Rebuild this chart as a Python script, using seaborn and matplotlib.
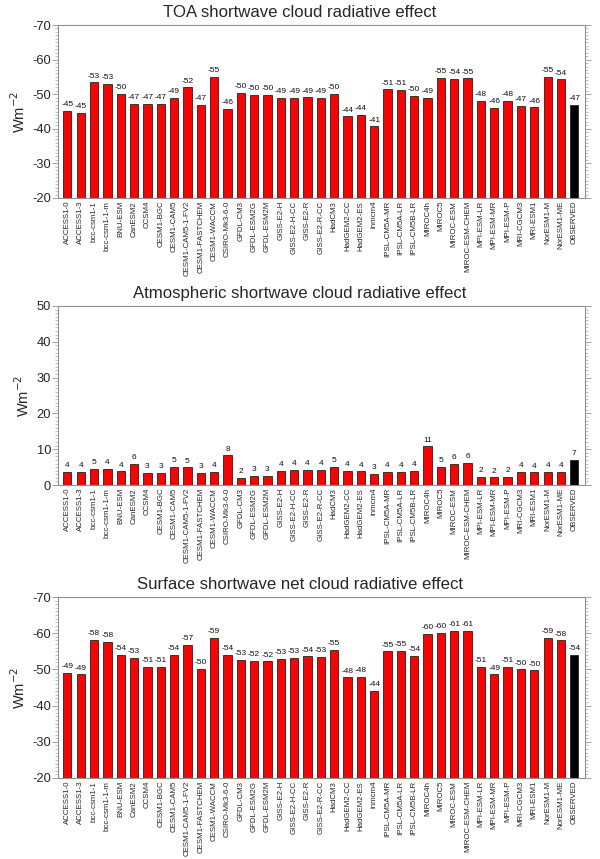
import matplotlib
matplotlib.use("Agg")
import matplotlib.pyplot as plt
import seaborn as sns
import pandas as pd
import numpy as np
from matplotlib.ticker import MultipleLocator

sns.set_theme(style="white")
plt.rcParams['font.family'] = ['Liberation Sans', 'DejaVu Sans']
plt.rcParams['axes.unicode_minus'] = False

models = ["ACCESS1-0", "ACCESS1-3", "bcc-csm1-1", "bcc-csm1-1-m", "BNU-ESM", "CanESM2",
          "CCSM4", "CESM1-BGC", "CESM1-CAM5", "CESM1-CAM5-1-FV2", "CESM1-FASTCHEM",
          "CESM1-WACCM", "CSIRO-Mk3-6-0", "GFDL-CM3", "GFDL-ESM2G", "GFDL-ESM2M",
          "GISS-E2-H", "GISS-E2-H-CC", "GISS-E2-R", "GISS-E2-R-CC", "HadCM3",
          "HadGEM2-CC", "HadGEM2-ES", "inmcm4", "IPSL-CM5A-MR", "IPSL-CM5A-LR",
          "IPSL-CM5B-LR", "MIROC4h", "MIROC5", "MIROC-ESM", "MIROC-ESM-CHEM",
          "MPI-ESM-LR", "MPI-ESM-MR", "MPI-ESM-P", "MRI-CGCM3", "MRI-ESM1",
          "NorESM1-M", "NorESM1-ME", "OBSERVED"]

toa = [-45.2, -44.6, -53.4, -53.0, -50.0, -47.1, -47.2, -47.1, -49.0, -52.0, -46.8,
       -54.9, -45.7, -50.3, -49.7, -49.7, -48.9, -48.9, -49.1, -48.9, -50.0,
       -43.6, -44.1, -40.7, -51.4, -51.2, -49.6, -48.9, -54.7, -54.4, -54.6,
       -48.1, -46.0, -48.0, -46.6, -46.2, -54.9, -54.3, -47.0]

atm = [3.7, 3.6, 4.6, 4.4, 3.8, 6.0, 3.4, 3.4, 5.0, 4.9, 3.3,
       3.7, 8.3, 2.0, 2.6, 2.55, 4.0, 4.2, 4.2, 4.2, 5.1,
       4.0, 3.8, 3.2, 3.6, 3.6, 3.9, 10.8, 5.1, 6.0, 6.1,
       2.2, 2.1, 2.2, 3.6, 3.55, 3.6, 3.7, 7.0]

sfc = [-49.1, -48.6, -58.1, -57.5, -54.0, -53.2, -50.7, -50.6, -54.0, -56.8, -50.2,
       -58.7, -54.1, -52.6, -52.3, -52.2, -53.0, -53.1, -53.6, -53.4, -55.3,
       -47.8, -48.0, -44.0, -55.0, -55.1, -53.7, -59.8, -60.0, -60.6, -60.7,
       -50.7, -48.6, -50.6, -50.0, -49.7, -58.6, -58.0, -54.0]

titles = ["TOA shortwave cloud radiative effect",
          "Atmospheric shortwave cloud radiative effect",
          "Surface shortwave net cloud radiative effect"]
ylims = [(-20, -70), (0, 50), (-20, -70)]
series = [toa, atm, sfc]

colors = ["#ff0000"] * (len(models) - 1) + ["#000000"]
palette = dict(zip(models, colors))

W, H = 600, 859
fig = plt.figure(figsize=(6, 8.59), dpi=100)
boxes = [(25, 198), (306, 485), (597, 778)]
spine_col = "#909090"
ax_left, ax_right = 58, 585

for vals, title, yl, (top, bot) in zip(series, titles, ylims, boxes):
    ax = fig.add_axes([ax_left / W, 1 - bot / H, (ax_right - ax_left) / W, (bot - top) / H])
    df = pd.DataFrame({"model": models, "value": vals})
    sns.barplot(data=df, x="model", y="value", hue="model", palette=palette,
                legend=False, width=0.62, edgecolor="#222222", linewidth=0.6,
                ax=ax, saturation=1)
    ax.set_ylim(*yl)
    ax.set_xlim(-0.7, len(models) - 0.2)
    ax.set_title(title, fontsize=12.1, pad=6,
                 x=(W / 2 - ax_left) / (ax_right - ax_left))
    ax.set_xlabel("")
    ax.set_ylabel("Wm$^{-2}$", fontsize=10.5, labelpad=3)
    ax.yaxis.set_major_locator(MultipleLocator(10))
    ax.yaxis.set_minor_locator(MultipleLocator(1))
    ax.tick_params(axis="y", which="major", length=4, width=0.6, color=spine_col,
                   labelsize=9.3, left=True, right=True, pad=1)
    ax.tick_params(axis="y", which="minor", length=2, width=0.4, color=spine_col,
                   left=True, right=True)
    ax.tick_params(axis="x", length=0, labelsize=5.7, pad=2)
    ax.set_xticks(range(len(models)))
    ax.set_xticklabels(models, rotation=90)
    for s in ax.spines.values():
        s.set_color(spine_col)
        s.set_linewidth(0.8)
    for i, v in enumerate(vals):
        lab = int(np.sign(v) * np.floor(abs(v) + 0.5))
        ax.annotate(f"{lab:d}", xy=(i, v), xytext=(0, 2), textcoords="offset points",
                    ha="center", va="bottom", fontsize=6, color="#111111")

fig.savefig("out.png", dpi=100)
